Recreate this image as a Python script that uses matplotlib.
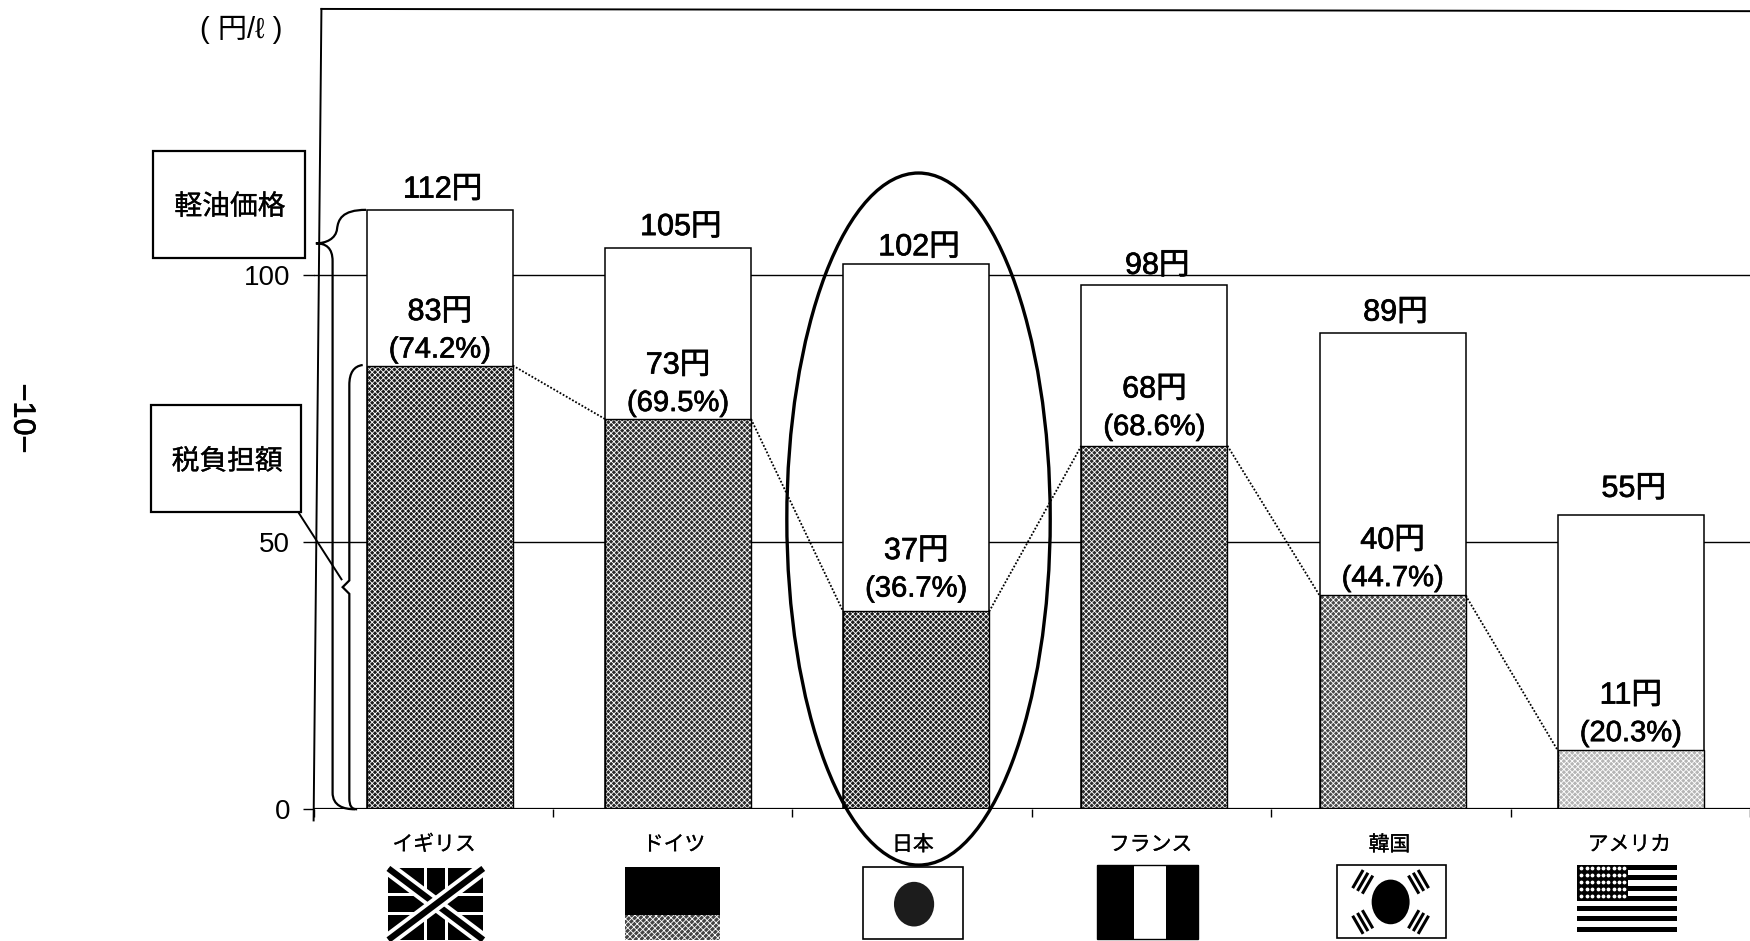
#!/usr/bin/env python3
# -*- coding: utf-8 -*-
import numpy as np
import matplotlib
matplotlib.use('Agg')
import matplotlib.pyplot as plt
import matplotlib.patheffects as pe
from matplotlib.patches import Rectangle, Ellipse, PathPatch
from matplotlib.path import Path

plt.rcParams['font.family'] = ['Liberation Sans', 'Noto Sans CJK JP', 'DejaVu Sans']
plt.rcParams['hatch.linewidth'] = 0.6

countries = ['イギリス', 'ドイツ', '日本', 'フランス', '韓国', 'アメリカ']
price = [112, 105, 102, 98, 89, 55]
tax = [83, 73, 37, 68, 40, 11]
tax_share = [74.2, 69.5, 36.7, 68.6, 44.7, 20.3]
yticks = [0, 50, 100]

# look of the scanned tone in each tax bar
tone = ['#1c1c1c', '#2b2b2b', '#1c1c1c', '#2b2b2b', '#4a4a4a', '#b5b5b5']
# small per-bar nudges, the scan has uneven label gaps
price_gap = [0, 0, -3, -1, 0, 4]
tax_gap = [0, 0, 5, 2, 1, 1]

heavy = [pe.withStroke(linewidth=0.5, foreground='black')]
light = [pe.withStroke(linewidth=0.2, foreground='black')]

fig = plt.figure(figsize=(17.5, 9.41), dpi=100)
ax = fig.add_axes([281 / 1568, 1 - 725 / 843, (1568 - 281) / 1568, (725 - 8) / 843])
ax.set_xlim(-0.5, 5.5)
ax.set_ylim(0, 149.7)
for s in ax.spines.values():
    s.set_visible(False)

x = np.arange(len(countries)) * 0.995 + 0.027
w = 0.61

for v in yticks[1:]:
    ax.axhline(v, color='black', lw=1.0, zorder=1)
ax.axhline(0, color='black', lw=1.6, zorder=5)

ax.bar(x, price, width=w, facecolor='white', edgecolor='black', lw=1.1, zorder=2)
for i in range(len(x)):
    ax.bar(x[i], tax[i], width=w, facecolor=tone[i], edgecolor='white', lw=0,
           hatch='\\\\\\\\\\\\//////', zorder=3)
    ax.bar(x[i], tax[i], width=w, fill=False, edgecolor='black', lw=1.0, zorder=4)
    ax.annotate(f'{price[i]}円', (x[i], price[i]), xytext=(2, 15 + price_gap[i]),
                textcoords='offset points', ha='center', va='center', fontsize=22, zorder=6,
                path_effects=heavy)
    ax.annotate(f'{tax[i]}円', (x[i], tax[i]), xytext=(0, 38.5 + tax_gap[i]),
                textcoords='offset points', ha='center', va='center', fontsize=22, zorder=6,
                path_effects=heavy)
    ax.annotate(f'({tax_share[i]}%)', (x[i], tax[i]), xytext=(0, 11.5 + tax_gap[i]),
                textcoords='offset points', ha='center', va='center', fontsize=21, zorder=6,
                path_effects=heavy)

# dotted lines joining the tax levels
for i in range(len(x) - 1):
    ax.plot([x[i] + w / 2, x[i + 1] - w / 2], [tax[i], tax[i + 1]], color='black',
            lw=1.3, ls=(0, (1, 1)), zorder=4)

ax.set_yticks(yticks)
ax.set_yticklabels([str(v) for v in yticks], fontsize=20)
ax.set_xticks(np.arange(-0.5, 6))
ax.set_xticklabels([])
ax.tick_params(axis='y', length=8, width=1.0, pad=9)
ax.tick_params(axis='x', length=6, width=1.0)

# overlay in picture coordinates for the hand-drawn notes and flags
ov = fig.add_axes([0, 0, 1, 1], facecolor='none')
ov.set_xlim(0, 1568)
ov.set_ylim(843, 0)
ov.axis('off')

# frame lines of the plot, slightly skewed in the scan
ov.plot([288, 281], [8, 735], color='black', lw=1.4)
ov.plot([288, 1568], [8, 10], color='black', lw=1.4)

ov.text(216, 27, '( 円/ℓ )', ha='center', va='center', fontsize=21)
ov.text(20, 375, '−10−', ha='center', va='center', rotation=-90, fontsize=22, path_effects=heavy)

for (x0, y0, bw, bh, label) in [(137, 135, 136, 96, '軽油価格'), (135, 363, 135, 96, '税負担額')]:
    ov.add_patch(Rectangle((x0, y0), bw, bh, facecolor='white', edgecolor='black', lw=1.6, zorder=3))
    ov.text(x0 + bw / 2 + 1, y0 + bh / 2 + 3, label, ha='center', va='center', fontsize=20, zorder=4,
            path_effects=light)

ov.plot([268, 306], [460, 519], color='black', lw=1.4)

# outer brace
outer = Path([(328, 188), (306, 188), (303, 197), (302, 205), (301, 214), (292, 218), (283, 218),
              (292, 218), (298, 222), (298, 234),
              (298, 710), (298, 722), (308, 725), (318, 725)],
             [1, 4, 4, 4, 4, 4, 4, 4, 4, 4, 2, 4, 4, 4])
ov.add_patch(PathPatch(outer, fill=False, color='black', lw=1.6))
# inner brace
inner = Path([(325, 327), (317, 328), (313, 334), (313, 345), (313, 520), (307, 526), (313, 532),
              (313, 715), (313, 722), (315, 725), (320, 725)],
             [1, 4, 4, 4, 2, 2, 2, 2, 4, 4, 4])
ov.add_patch(PathPatch(inner, fill=False, color='black', lw=1.6))

ov.add_patch(Ellipse((823, 465), 236, 620, fill=False, edgecolor='black', lw=2.4, zorder=7))

# country names and flags
name_x = [389, 604, 818, 1031, 1245, 1460]
for nx, name in zip(name_x, countries):
    ov.text(nx, 757, name, ha='center', va='center', fontsize=15, path_effects=light)


def rect(x0, y0, rw, rh, **kw):
    kw.setdefault('facecolor', 'black')
    kw.setdefault('edgecolor', 'none')
    ov.add_patch(Rectangle((x0, y0), rw, rh, **kw))


# UK
ux0, uy0, ux1, uy1 = 348, 778, 433, 842
rect(ux0, uy0, ux1 - ux0, uy1 - uy0)
clip = Rectangle((ux0, uy0), ux1 - ux0, uy1 - uy0, transform=ov.transData)
for a, b in [((ux0, uy0), (ux1, uy1)), ((ux0, uy1), (ux1, uy0))]:
    ov.plot(*zip(a, b), color='white', lw=10, clip_path=clip, solid_capstyle='butt')
    ov.plot(*zip(a, b), color='black', lw=4.5, clip_path=clip, solid_capstyle='butt')
um = (ux0 + ux1) / 2
uv = (uy0 + uy1) / 2
rect(um - 11, uy0, 22, uy1 - uy0, facecolor='white')
rect(ux0, uv - 10, ux1 - ux0, 20, facecolor='white')
rect(um - 8, uy0, 16, uy1 - uy0)
rect(ux0, uv - 7, ux1 - ux0, 14)

# Germany
rect(560, 777, 85, 43)
rect(560, 820, 85, 22, facecolor='#444444', edgecolor='white', lw=0, hatch='\\\\\\\\\\//////')
# Japan
rect(773, 777, 90, 64, facecolor='white', edgecolor='black', lw=1.2)
ov.add_patch(Ellipse((819, 810), 36, 40, facecolor='#1c1c1c', edgecolor='none'))
# France
rect(983, 775, 90, 66, facecolor='white', edgecolor='black', lw=1.0)
rect(983, 775, 33, 66)
rect(1045, 775, 29, 66)
# Korea
rect(1198, 775, 98, 65, facecolor='white', edgecolor='black', lw=1.2)
ov.add_patch(Ellipse((1246, 808), 34, 40, facecolor='black', edgecolor='none'))
for cx, cy, ang in [(1221, 790, 60), (1271, 790, -60), (1221, 826, -60), (1271, 826, 60)]:
    for k in (-5, 0, 5):
        dx, dy = k * np.sin(np.radians(ang)), k * np.cos(np.radians(ang))
        hx, hy = 8 * np.cos(np.radians(ang)), -8 * np.sin(np.radians(ang))
        ov.plot([cx + dx - hx, cx + dx + hx], [cy + dy - hy, cy + dy + hy], color='black', lw=2.2)
# USA
rect(1413, 775, 90, 60, facecolor='white')
for k in range(7):
    rect(1413, 775 + k * 9.2, 90, 4.5)
rect(1413, 775, 46, 32)
for r in range(5):
    for c in range(9):
        ov.plot(1417 + c * 4.8, 778 + r * 6.2, marker='.', ms=3.5, color='white', lw=0)

fig.savefig('out.png', dpi=100)
